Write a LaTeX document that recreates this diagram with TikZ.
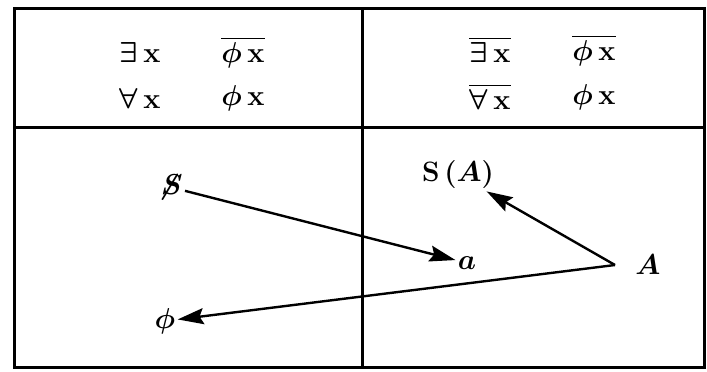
\documentclass[tikz,border=0pt]{standalone}
\usepackage{amsmath,amssymb}
\usetikzlibrary{arrows.meta}

\begin{document}
\begin{tikzpicture}[x=0.5pt, y=-0.5pt, font=\fontsize{14}{16}\selectfont\bfseries\boldmath,
  >={Stealth[length=13pt, width=8pt, inset=2pt]},
  frame/.style={line width=1.5pt},
  lbl/.style={inner sep=1pt},
  link/.style={->, line width=1.2pt}]
\useasboundingbox (0,0) rectangle (707,371);
% frame and dividers
\draw[frame] (14,8) rectangle (704,367);
\draw[frame] (362,8) -- (362,367);
\draw[frame] (14,127) -- (704,127);
% upper left cell
\node[lbl] (exl) at (140,52) {$\exists\,\mathbf{x}$};
\node[lbl] (phnl) at (243,52) {$\overline{\phi\,\mathbf{x}}$};
\node[lbl] (all) at (140,98) {$\forall\,\mathbf{x}$};
\node[lbl] (phl) at (243,98) {$\phi\,\mathbf{x}$};
% upper right cell
\node[lbl] (exr) at (490,50) {$\overline{\exists\,\mathbf{x}}$};
\node[lbl] (phnr) at (594,50) {$\overline{\phi\,\mathbf{x}}$};
\node[lbl] (alr) at (490,97) {$\overline{\forall\,\mathbf{x}}$};
\node[lbl] (phr) at (594,97) {$\phi\,\mathbf{x}$};
% lower cells
\node[lbl] (s) at (170,187) {$\not\!S$};
\node[lbl] (a) at (467,263) {$a$};
\node[lbl] (A) at (648,265) {$A$};
\coordinate (Ap) at (615,265);
\node[lbl] (sA) at (458,175) {S\,($A$)};
\node[lbl] (ph) at (165,321) {$\phi$};
\draw[link] (s) -- (a);
\draw[link] (Ap) -- (sA);
\draw[link] (Ap) -- (ph);
\end{tikzpicture}
\end{document}
